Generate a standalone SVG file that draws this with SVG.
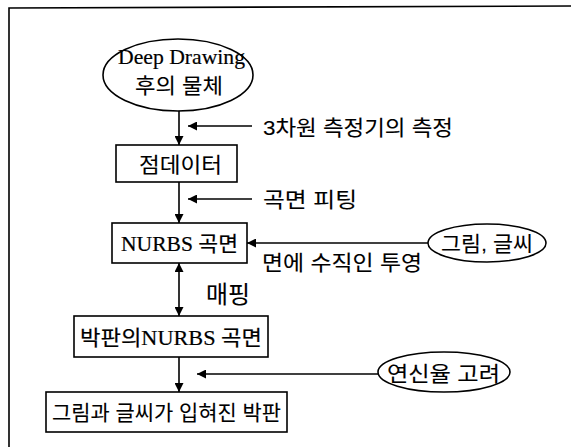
<svg xmlns="http://www.w3.org/2000/svg" width="571" height="447" viewBox="0 0 571 447">
<defs>
<marker id="ah" viewBox="0 0 10 10" refX="10" refY="5" markerWidth="9" markerHeight="9" markerUnits="userSpaceOnUse" orient="auto-start-reverse">
<path d="M0,0 L10,5 L0,10 Z" fill="#000"/>
</marker>
<style>
.ln{stroke:#000;stroke-width:1.6;fill:none}
.bx{stroke:#000;stroke-width:1.6;fill:#fff}
.ko{font-family:"Liberation Sans","Noto Sans CJK KR",sans-serif;font-size:21px;fill:#000;stroke:#000;stroke-width:0.1}
.mx{font-family:"Liberation Serif","Noto Sans CJK KR",serif;font-size:21px;fill:#000;stroke:#000;stroke-width:0.2}
</style>
</defs>
<rect width="571" height="447" fill="#fff"/>
<path class="ln" d="M9,447 L9,8 L571,6"/>
<g id="connectors">
<line class="ln" x1="179" y1="111" x2="179" y2="145" marker-end="url(#ah)"/>
<line class="ln" x1="252" y1="126" x2="188" y2="126" marker-end="url(#ah)"/>
<line class="ln" x1="179" y1="182" x2="179" y2="223" marker-end="url(#ah)"/>
<line class="ln" x1="252" y1="199" x2="188" y2="199" marker-end="url(#ah)"/>
<line class="ln" x1="428" y1="243" x2="247" y2="243" marker-end="url(#ah)"/>
<line class="ln" x1="179" y1="263" x2="179" y2="316" marker-start="url(#ah)" marker-end="url(#ah)"/>
<line class="ln" x1="179" y1="357" x2="179" y2="392" marker-end="url(#ah)"/>
<line class="ln" x1="378" y1="374" x2="197" y2="374" marker-end="url(#ah)"/>
<text class="ko" x="263" y="135" textLength="190" lengthAdjust="spacingAndGlyphs">3차원 측정기의 측정</text>
<text class="ko" x="263" y="207" textLength="94" lengthAdjust="spacingAndGlyphs">곡면 피팅</text>
<text class="ko" x="262" y="270" textLength="160" lengthAdjust="spacingAndGlyphs">면에 수직인 투영</text>
<text class="ko" x="206" y="303" style="font-size:24px" textLength="44" lengthAdjust="spacingAndGlyphs">매핑</text>
</g>
<g id="n1">
<ellipse class="bx" cx="178" cy="75" rx="75" ry="36"/>
<text class="mx" x="118" y="64" style="font-size:22px" textLength="127" lengthAdjust="spacingAndGlyphs">Deep Drawing</text>
<text class="ko" x="135" y="93" textLength="88" lengthAdjust="spacingAndGlyphs">후의 물체</text>
</g>
<g id="n2">
<rect class="bx" x="116" y="145" width="121" height="37"/>
<text class="ko" x="139" y="172" textLength="83" lengthAdjust="spacingAndGlyphs">점데이터</text>
</g>
<g id="n3">
<rect class="bx" x="112" y="223" width="135" height="40"/>
<text class="mx" x="121" y="251" textLength="117" lengthAdjust="spacingAndGlyphs">NURBS 곡면</text>
</g>
<g id="n4">
<ellipse class="bx" cx="487" cy="243" rx="59" ry="19"/>
<text class="ko" x="441" y="251" textLength="92" lengthAdjust="spacingAndGlyphs">그림, 글씨</text>
</g>
<g id="n5">
<rect class="bx" x="74" y="316" width="194" height="41"/>
<text class="mx" x="80" y="345" textLength="182" lengthAdjust="spacingAndGlyphs">박판의NURBS 곡면</text>
</g>
<g id="n6">
<ellipse class="bx" cx="444" cy="372" rx="66" ry="20"/>
<text class="ko" x="387" y="381" textLength="113" lengthAdjust="spacingAndGlyphs">연신율 고려</text>
</g>
<g id="n7">
<rect class="bx" x="46" y="392" width="241" height="40"/>
<text class="ko" x="52" y="420" textLength="229" lengthAdjust="spacingAndGlyphs">그림과 글씨가 입혀진 박판</text>
</g>
</svg>
